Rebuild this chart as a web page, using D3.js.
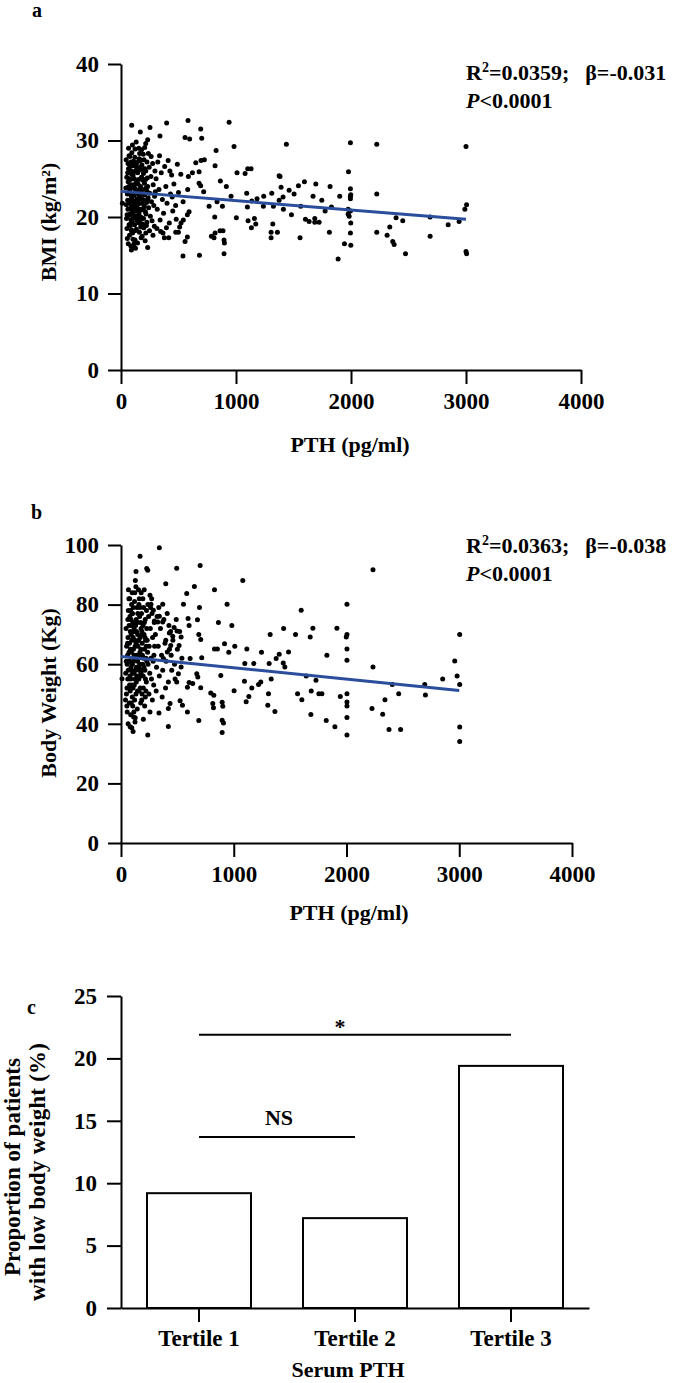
<!DOCTYPE html>
<html>
<head>
<meta charset="utf-8">
<script src="https://cdn.jsdelivr.net/npm/d3@7"></script>
<style>
  html, body { margin: 0; padding: 0; background: #fff; }
  svg { display: block; }
  text { font-family: "Liberation Serif", "Times New Roman", serif; font-weight: bold; fill: #000; }
</style>
</head>
<body>
<svg id="chart" width="681" height="1383"></svg>
<script>
// ---------------- DATA ----------------
const pthTicks = [0, 1000, 2000, 3000, 4000];
const bmiTicks = [0, 10, 20, 30, 40];
const weightTicks = [0, 20, 40, 60, 80, 100];
const pctTicks = [0, 5, 10, 15, 20, 25];

// Panel a: [PTH (pg/ml), BMI (kg/m2)]
const bmiPoints = [
  [93,32.0],[168,31.1],[252,31.7],[397,32.3],[583,32.6],[693,31.5],[940,32.4],[339,30.6],[557,30.4],[597,30.2],
  [702,30.3],[983,29.2],[827,28.7],[232,30.1],[215,29.6],[1438,29.5],[1995,29.7],[2224,29.5],[1978,25.9],[1009,25.8],
  [1079,25.7],[1102,26.3],[1131,26.3],[1375,25.4],[1383,25.3],[1595,24.6],[1694,24.3],[1818,24.0],[1543,24.1],[1995,23.7],
  [1998,22.9],[1995,22.7],[1995,22.4],[1902,22.7],[1670,22.7],[1746,22.2],[2224,23.0],[1505,23.0],[1462,23.5],[1392,23.9],
  [1409,22.6],[1375,22.2],[1311,23.1],[1241,22.7],[1183,22.4],[1137,22.1],[1093,23.1],[957,22.7],[916,24.0],[864,24.7],
  [818,26.7],[725,27.5],[696,27.4],[650,27.1],[679,25.9],[621,25.8],[586,25.3],[580,23.6],[719,23.3],[679,24.4],
  [693,24.1],[766,21.4],[835,22.0],[882,21.4],[1099,21.3],[1238,21.4],[1325,21.4],[1412,21.0],[1482,20.3],[1563,21.4],
  [1775,20.8],[1830,21.3],[1975,21.0],[1995,20.8],[1998,19.2],[1984,20.1],[1975,20.4],[1003,19.9],[815,20.0],[1105,19.5],
  [1160,19.8],[1172,19.1],[1134,18.6],[1320,19.1],[1305,18.0],[1305,17.3],[1360,18.0],[1557,17.3],[1604,19.7],[1636,19.4],
  [1685,19.8],[1685,19.3],[1723,19.3],[1812,18.0],[1943,16.5],[1995,17.9],[1998,16.3],[1888,14.5],[2224,18.0],[2314,17.6],
  [2337,18.7],[2363,16.8],[2375,16.4],[2392,19.9],[2450,19.5],[2474,15.2],[2688,17.5],[2845,19.0],[2688,20.0],[2940,19.4],
  [896,15.2],[899,16.6],[896,17.0],[887,18.2],[861,18.2],[818,17.9],[786,17.5],[809,17.3],[682,15.0],[539,14.9],
  [557,16.8],[577,17.4],[510,18.7],[522,19.2],[542,19.6],[577,20.3],[592,20.7],[499,18.0],[476,18.0],[415,17.3],
  [377,17.3],[345,18.1],[232,16.0],[90,15.7],[107,16.0],[122,17.0],[93,18.1],[70,19.0],[12,21.8],
  [3000,29.2],[3005,21.6],[2990,21.0],[3000,15.5],[3005,15.2],
  [45,27.5],[50,25.2],[55,23.0],[60,21.0],[48,19.8],[52,18.5],[58,22.2],[62,24.6],[65,26.3],[42,23.8],[68,20.2],[70,28.0],[55,17.2],[63,16.5],[47,21.6],[66,29.0],
  [72,25.0],[75,23.4],[78,21.8],[80,20.4],[82,18.9],[85,27.2],[88,26.0],[90,24.2],[92,22.5],[95,20.9],[98,19.3],[74,17.6],[86,16.2],[94,28.4],[99,29.4],[77,27.9],[83,24.9],[89,21.3],[96,23.8],[100,17.9],
  [102,26.7],[105,25.5],[108,24.0],[110,22.8],[112,21.5],[115,20.2],[118,19.0],[120,27.8],[122,28.9],[125,23.3],[128,22.0],[130,20.8],[133,18.4],[135,26.1],[138,24.7],[104,17.1],[114,16.5],[126,15.9],[132,29.8],[116,25.0],[124,21.2],[136,19.6],[107,19.9],[119,23.8],[139,22.4],
  [142,27.2],[145,25.8],[148,24.3],[150,23.0],[153,21.7],[156,20.5],[158,19.2],[160,18.0],[162,28.3],[165,26.5],[168,22.4],[170,24.0],[172,20.0],[175,17.3],[178,25.2],[144,16.6],[155,29.0],[163,21.0],[176,23.1],[147,22.2],[159,27.6],[171,18.7],[179,28.8],
  [182,26.8],[185,25.0],[188,23.6],[190,22.3],[193,21.1],[196,19.8],[198,18.6],[200,27.5],[204,24.4],[208,22.9],[212,20.7],[215,26.0],[218,23.8],[222,21.9],[225,19.3],[228,25.1],[184,17.5],[194,28.2],[206,29.1],[216,17.9],[226,27.2],[210,16.9],
  [232,24.0],[236,22.5],[240,21.2],[245,26.5],[250,23.1],[255,20.1],[260,25.3],[265,22.0],[270,19.5],[275,27.0],[280,24.2],[285,21.5],[290,18.8],[295,26.0],[298,23.3],[238,28.3],[248,18.2],[262,27.9],[278,17.6],[292,22.7],
  [305,25.0],[315,21.0],[320,27.2],[330,23.6],[340,19.6],[350,25.8],[360,22.3],[370,20.5],[380,26.6],[390,24.0],[400,21.8],[410,27.4],[420,19.2],[430,23.0],[440,25.5],[450,20.8],[312,18.5],[335,28.0],[365,17.9],[395,18.6],[425,26.0],[445,22.6],[460,24.3],[475,21.5],[490,26.9],[500,23.2],[480,19.7],[520,25.6],[540,22.0],
  [58,25.8],[64,23.9],[71,22.1],[79,26.6],[87,19.6],[93,25.6],[101,22.2],[109,27.3],[117,21.9],[127,24.4],[134,27.0],[141,20.1],[149,26.0],[157,23.6],[166,19.6],[174,26.2],[183,21.8],[191,24.8],[199,22.9],[207,26.3],[217,20.4],[224,23.4],
  [53,20.3],[61,27.0],[69,24.0],[76,19.0],[84,22.9],[91,18.3],[97,26.9],[103,20.7],[111,25.9],[121,18.2],[129,26.6],[137,21.3],[146,19.4],[154,24.9],[161,22.6],[169,27.4],[177,20.9],[187,19.1],[195,25.7],[203,21.4],[213,24.9],[221,18.9],[229,22.3]
];
const bmiFit = [[0, 23.35], [3000, 19.7]];
const bmiStats = { r2: "0.0359", beta: "-0.031", p: "0.0001" };

// Panel b: [PTH (pg/ml), Body weight (kg)]
const weightPoints = [
  [340,99.1],[169,96.2],[494,92.2],[702,93.1],[228,92.1],[237,91.5],[133,91.1],[127,88.1],[397,87.0],[651,86.1],
  [1080,88.1],[829,85.0],[2235,91.7],[583,83.7],[554,80.1],[696,79.0],[941,80.1],[864,74.0],[983,73.0],[595,75.3],
  [604,73.0],[678,74.9],[690,70.0],[707,68.3],[716,62.2],[829,65.1],[855,65.1],[918,66.9],[956,64.0],[1009,66.0],
  [1116,65.1],[1246,64.0],[1323,70.0],[1442,72.0],[1548,70.0],[1598,78.1],[1678,69.1],[1702,72.1],[1915,72.1],[1998,69.1],
  [2004,70.0],[2004,80.1],[2004,65.1],[2004,61.3],[1826,63.0],[2235,59.1],[3004,70.0],[2960,61.1],[2981,56.0],[3004,53.2],
  [2853,55.0],[2694,53.2],[2700,49.7],[2463,50.1],[2406,53.2],[2341,48.1],[2321,43.2],[2226,45.1],[2377,38.1],[2480,38.1],
  [3004,38.9],[3004,34.1],[2004,50.1],[2004,47.3],[2004,46.0],[2004,42.1],[2004,36.2],[1945,49.2],[1897,39.0],[1820,41.1],
  [1684,43.1],[1687,51.0],[1755,50.1],[1782,50.1],[1729,54.6],[1643,56.0],[1566,50.1],[1604,48.1],[1486,64.1],[1403,63.3],
  [1376,61.9],[1439,60.4],[1453,59.1],[1314,60.2],[1332,55.0],[1308,50.1],[1302,46.2],[1365,44.1],[1240,54.0],[1220,53.2],
  [1178,60.2],[1160,52.0],[1134,49.2],[1110,47.4],[1095,54.3],[1098,60.2],[1003,51.1],[885,56.2],[897,47.2],[903,45.9],
  [897,41.2],[909,40.3],[897,37.1],[823,49.6],[796,50.3],[814,46.8],[820,45.4],[707,52.1],[672,56.8],[681,55.7],
  [690,41.1],[589,52.3],[604,53.9],[636,53.5],[524,47.7],[545,46.2],[589,44.0],[420,39.1],[237,36.2],[95,38.7],
  [107,37.4],[124,40.6],[112,42.3],[198,41.5],[257,44.0],[337,43.6],[420,45.1],[435,46.8],[494,54.0],[509,56.8],
  [533,59.1],[613,61.9],[515,66.3],[533,69.1],[497,71.1],[471,72.3],[459,69.4],[441,66.3],[411,64.1],[376,61.9],
  [397,68.0],[429,70.5],[370,74.2],[326,74.2],[340,76.1],[287,78.1],[266,80.1],[370,80.1],[296,74.5],[272,82.0],
  [257,83.1],[9,55.1],
  [45,72],[50,66],[55,60],[60,55],[48,50],[52,46],[58,63],[62,69],[65,78],[42,57],[68,52],[70,82],[55,44],[63,40],[47,61],[66,85],[40,48],
  [72,73],[75,67],[78,61],[80,56],[82,51],[85,78],[88,75],[90,70],[92,64],[95,58],[98,53],[74,47],[86,43],[94,80],[99,84],[77,82],[83,71],[89,59],[96,68],[100,49],[81,39],
  [102,77],[105,74],[108,69],[110,65],[112,61],[115,57],[118,53],[120,81],[122,84],[125,66],[128,62],[130,58],[133,50],[135,75],[138,71],[104,46],[114,44],[126,42],[132,86],[116,72],[124,55],[136,54],[107,52],[119,68],[139,63],
  [142,79],[145,74],[148,70],[150,66],[153,62],[156,59],[158,55],[160,51],[162,82],[165,76],[168,64],[170,69],[172,56],[175,47],[178,72],[144,45],[155,85],[163,58],[176,65],[147,61],[159,80],[171,52],[179,84],
  [182,77],[185,71],[188,67],[190,63],[193,60],[196,56],[198,52],[200,79],[204,70],[208,65],[212,58],[215,75],[218,68],[222,62],[225,54],[228,72],[184,48],[194,82],[206,85],[216,49],[226,78],[210,46],
  [232,68],[236,64],[240,60],[245,76],[250,66],[255,57],[260,72],[265,62],[270,55],[275,77],[280,69],[285,61],[290,53],[295,74],[298,66],[238,80],[248,50],[262,79],[278,48],[292,63],
  [305,70],[315,59],[320,76],[330,66],[340,56],[350,72],[360,63],[370,58],[380,75],[390,67],[400,61],[410,77],[420,54],[430,65],[440,71],[450,58],[312,51],[335,79],[365,49],[395,52],[425,73],[445,63],[460,68],[475,60],[490,75],[500,65],[480,55],[520,71],[540,62],
  [58,67],[64,58],[71,64],[79,76],[87,55],[93,73],[101,60],[109,79],[117,63],[127,71],[134,67],[141,56],[149,77],[157,68],[166,60],[174,74],[183,58],[191,70],[199,62],[207,74],[217,55],[224,66],
  [53,52],[61,75],[69,61],[76,53],[84,65],[91,47],[97,77],[103,57],[111,71],[121,48],[129,73],[137,59],[146,51],[154,68],[161,63],[169,79],[177,57],[187,50],[195,73],[203,59],[213,69],[221,51],[229,61]
];
const weightFit = [[0, 62.6], [3000, 51.2]];
const weightStats = { r2: "0.0363", beta: "-0.038", p: "0.0001" };

// Panel c
const tertiles = ["Tertile 1", "Tertile 2", "Tertile 3"];
const lowWeightPct = [9.2, 7.2, 19.4];
const sigBars = [
  { from: "Tertile 1", to: "Tertile 3", level: 21.9, label: "*" },
  { from: "Tertile 1", to: "Tertile 2", level: 13.7, label: "NS" }
];

// ---------------- DRAW ----------------
const svg = d3.select("#chart");
const FS = 22;
const TFS = 23;
const lineBlue = "#2a4d9c";

function styleAxis(g) {
  g.selectAll("path.domain").attr("stroke", "#000").attr("stroke-width", 2);
  g.selectAll(".tick line").attr("stroke", "#000").attr("stroke-width", 2);
  g.selectAll(".tick text")
    .attr("fill", "#000")
    .style("font-family", '"Liberation Serif", "Times New Roman", serif')
    .style("font-weight", "bold")
    .style("font-size", TFS + "px");
}

function panelLabel(txt, x, y) {
  svg.append("text").attr("x", x).attr("y", y).style("font-size", "20px").text(txt);
}

function scatterPanel(opt) {
  const x = d3.scaleLinear().domain([0, 4000]).range([opt.x0, opt.x1]);
  const y = d3.scaleLinear().domain(opt.yDomain).range([opt.yBottom, opt.yTop]);

  const gx = svg.append("g").attr("transform", `translate(0,${opt.yBottom})`)
    .call(d3.axisBottom(x).tickValues(pthTicks).tickFormat(d3.format("d")).tickSize(14).tickSizeOuter(0).tickPadding(9));
  styleAxis(gx);
  const gy = svg.append("g").attr("transform", `translate(${opt.x0},0)`)
    .call(d3.axisLeft(y).tickValues(opt.yTicks).tickSize(13).tickSizeOuter(0).tickPadding(9));
  styleAxis(gy);

  svg.append("g").selectAll("circle").data(opt.points).join("circle")
    .attr("cx", d => x(d[0])).attr("cy", d => y(d[1])).attr("r", 2.5).attr("fill", "#000");

  svg.append("path").datum(opt.fit)
    .attr("d", d3.line().x(d => x(d[0])).y(d => y(d[1])))
    .attr("stroke", lineBlue).attr("stroke-width", 3).attr("fill", "none");

  // titles
  svg.append("text").attr("x", opt.xTitleX).attr("y", opt.xTitleY).attr("text-anchor", "middle")
    .style("font-size", FS + "px").text("PTH (pg/ml)");
  svg.append("text").attr("transform", `translate(${opt.yTitleX},${opt.yTitleY}) rotate(-90)`)
    .attr("text-anchor", "middle").style("font-size", FS + "px").text(opt.yTitle);

  // stats
  const t1 = svg.append("text").attr("x", 466).attr("y", opt.statY).style("font-size", FS + "px");
  t1.append("tspan").text("R");
  t1.append("tspan").style("font-size", "14px").attr("dy", -8).text("2");
  t1.append("tspan").attr("dy", 8).text("=" + opt.stats.r2 + ";");
  t1.append("tspan").attr("dx", 16).text("β=" + opt.stats.beta);
  const t2 = svg.append("text").attr("x", 466).attr("y", opt.statY + 28).style("font-size", FS + "px");
  t2.append("tspan").style("font-style", "italic").text("P");
  t2.append("tspan").text("<" + opt.stats.p);
}

panelLabel("a", 32, 17);
scatterPanel({
  x0: 121, x1: 581, yBottom: 370, yTop: 64, yDomain: [0, 40], yTicks: bmiTicks,
  points: bmiPoints, fit: bmiFit, stats: bmiStats, statY: 80,
  xTitleX: 350, xTitleY: 452, yTitleX: 56, yTitleY: 222, yTitle: "BMI (kg/m²)"
});

panelLabel("b", 31, 519);
scatterPanel({
  x0: 121, x1: 572, yBottom: 843, yTop: 545, yDomain: [0, 100], yTicks: weightTicks,
  points: weightPoints, fit: weightFit, stats: weightStats, statY: 553,
  xTitleX: 349, xTitleY: 920, yTitleX: 56, yTitleY: 693, yTitle: "Body Weight (Kg)"
});

// Panel c
panelLabel("c", 27, 1014);
{
  const x = d3.scaleBand().domain(tertiles).range([121, 589]).paddingInner(1/3).paddingOuter(1/6);
  const y = d3.scaleLinear().domain([0, 25]).range([1308, 996]);

  svg.append("g").selectAll("rect").data(tertiles).join("rect")
    .attr("x", d => x(d)).attr("width", x.bandwidth())
    .attr("y", (d, i) => y(lowWeightPct[i])).attr("height", (d, i) => y(0) - y(lowWeightPct[i]))
    .attr("fill", "#fff").attr("stroke", "#000").attr("stroke-width", 2);

  const gx = svg.append("g").attr("transform", `translate(0,${y(0)})`)
    .call(d3.axisBottom(x).tickSize(14).tickSizeOuter(0).tickPadding(8));
  styleAxis(gx);
  const gy = svg.append("g").attr("transform", `translate(121,0)`)
    .call(d3.axisLeft(y).tickValues(pctTicks).tickSize(14).tickSizeOuter(0).tickPadding(10));
  styleAxis(gy);

  const cx = d => x(d) + x.bandwidth() / 2;
  sigBars.forEach((s, i) => {
    svg.append("line").attr("x1", cx(s.from)).attr("x2", cx(s.to))
      .attr("y1", y(s.level)).attr("y2", y(s.level))
      .attr("stroke", "#000").attr("stroke-width", 2);
    const mid = (cx(s.from) + cx(s.to)) / 2;
    svg.append("text").attr("x", mid + (s.label === "*" ? -15 : 2))
      .attr("y", s.label === "*" ? y(s.level) - 1 : y(s.level) - 12)
      .attr("text-anchor", "middle").style("font-size", FS + "px").text(s.label);
  });

  svg.append("text").attr("x", 348).attr("y", 1377).attr("text-anchor", "middle")
    .style("font-size", FS + "px").text("Serum PTH");
  svg.append("text").attr("transform", "translate(20,1167) rotate(-90)").attr("text-anchor", "middle")
    .style("font-size", "23px").attr("textLength", 218).attr("lengthAdjust", "spacing").text("Proportion of patients");
  svg.append("text").attr("transform", "translate(45,1172) rotate(-90)").attr("text-anchor", "middle")
    .style("font-size", "23px").attr("textLength", 258).attr("lengthAdjust", "spacing").text("with low body weight (%)");
}
</script>
</body>
</html>
